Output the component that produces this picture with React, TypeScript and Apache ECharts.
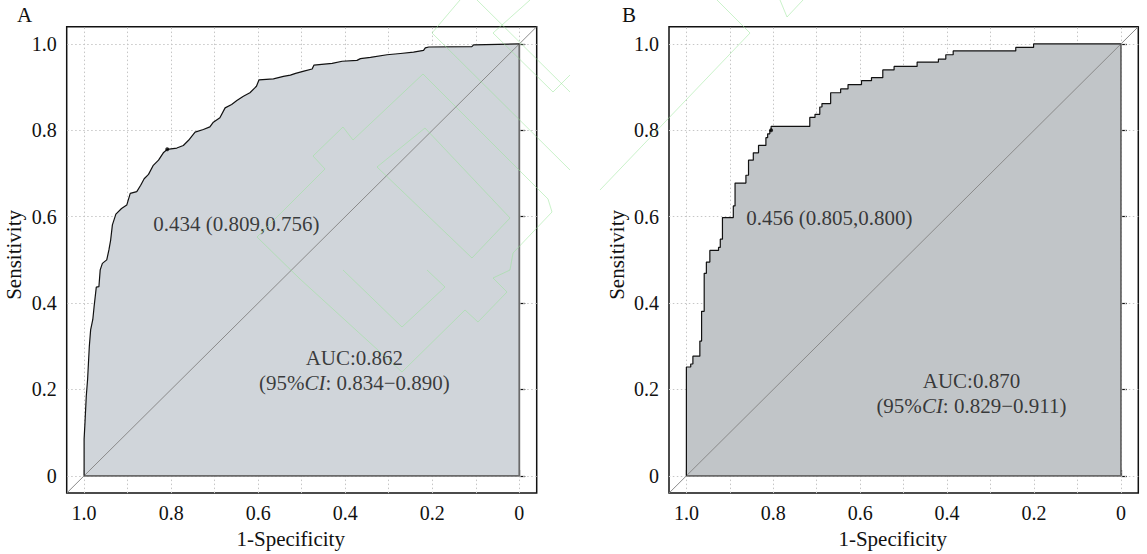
import React, { useEffect, useRef } from 'react';
import * as echarts from 'echarts';

// ---------- data ----------
// Panel A ROC curve (specificity, sensitivity)
const specA = [1.000, 1.000, 0.998, 0.995, 0.992, 0.990, 0.988, 0.985, 0.980, 0.977, 0.972, 0.966, 0.963, 0.958, 0.948, 0.943, 0.939, 0.935, 0.927, 0.914, 0.902, 0.894, 0.879, 0.870, 0.862, 0.852, 0.841, 0.829, 0.818, 0.809, 0.787, 0.772, 0.760, 0.745, 0.726, 0.711, 0.703, 0.688, 0.676, 0.661, 0.649, 0.634, 0.619, 0.604, 0.598, 0.565, 0.542, 0.526, 0.514, 0.495, 0.476, 0.472, 0.430, 0.407, 0.373, 0.365, 0.342, 0.304, 0.273, 0.243, 0.220, 0.216, 0.208, 0.109, 0.105, 0.000];
const sensA = [0.000, 0.085, 0.123, 0.185, 0.223, 0.262, 0.300, 0.338, 0.362, 0.392, 0.437, 0.438, 0.477, 0.492, 0.500, 0.523, 0.546, 0.581, 0.606, 0.619, 0.627, 0.654, 0.658, 0.673, 0.688, 0.698, 0.719, 0.731, 0.748, 0.756, 0.759, 0.765, 0.777, 0.796, 0.802, 0.808, 0.819, 0.829, 0.852, 0.860, 0.869, 0.879, 0.887, 0.902, 0.917, 0.919, 0.925, 0.928, 0.932, 0.937, 0.942, 0.951, 0.955, 0.960, 0.962, 0.966, 0.969, 0.975, 0.978, 0.981, 0.985, 0.991, 0.993, 0.994, 0.998, 1.000];

// Panel B ROC curve (step corners: specificity at end of each run, sensitivity level)
const specB = [1.000, 0.990, 0.985, 0.969, 0.965, 0.959, 0.954, 0.946, 0.926, 0.922, 0.917, 0.892, 0.888, 0.863, 0.857, 0.846, 0.834, 0.817, 0.813, 0.808, 0.805, 0.716, 0.704, 0.693, 0.688, 0.668, 0.645, 0.628, 0.597, 0.574, 0.548, 0.522, 0.469, 0.420, 0.403, 0.386, 0.242, 0.201, 0.000];
const sensB = [0.000, 0.252, 0.259, 0.277, 0.312, 0.381, 0.469, 0.495, 0.522, 0.529, 0.548, 0.598, 0.625, 0.678, 0.696, 0.731, 0.748, 0.765, 0.783, 0.792, 0.800, 0.809, 0.830, 0.837, 0.854, 0.862, 0.887, 0.896, 0.906, 0.915, 0.922, 0.940, 0.948, 0.958, 0.965, 0.975, 0.984, 0.992, 1.000];

const tickValues = [0, 0.2, 0.4, 0.6, 0.8, 1.0];
const gridXValues = [0, 0.1, 0.2, 0.3, 0.4, 0.5, 0.6, 0.7, 0.8, 0.9, 1.0];
const gridYValues = [0, 0.2, 0.4, 0.6, 0.8, 1.0];
const axisMin = -0.04;
const axisMax = 1.04;

const panelLabels = ['A', 'B'];
const xAxisTitle = '1-Specificity';
const yAxisTitle = 'Sensitivity';
const thresholdPoints = [[0.809, 0.756], [0.805, 0.800]];
const thresholdTexts = ['0.434 (0.809,0.756)', '0.456 (0.805,0.800)'];
const thresholdTextAnchors = [[0.841, 0.582], [0.862, 0.597]];
const aucTexts = ['AUC:0.862', 'AUC:0.870'];
const ciPrefix = '(95%';
const ciItalic = 'CI';
const ciRanges = [': 0.834\u22120.890)', ': 0.829\u22120.911)'];
const aucAnchors = [[0.379, 0.244], [0.344, 0.190]];

// ---------- styles ----------
const FONT = "'Liberation Serif', 'Times New Roman', serif";
const TEXT = '#111';
const fillColors = ['#d0d5da', '#c1c5c8'];
const layouts = [
  { left: 66.7, top: 26.7, width: 470, height: 468.3 },
  { left: 669, top: 26.7, width: 469.3, height: 468.3 },
];
const titlePos = [{ left: 17, top: 4 }, { left: 622, top: 4 }];

// faint background watermark outlines (decoration, pixel space)
const watermark: number[][][] = [
  [[257, 237], [325, 169], [313, 156], [343, 127], [353, 140], [423, 74], [548, 199], [552, 212], [513, 253], [510, 270], [493, 278], [507, 292], [478, 322], [465, 310], [402, 372], [300, 279], [257, 237]],
  [[377, 167], [425, 128], [510, 218], [472, 258], [377, 167]],
  [[343, 270], [402, 327], [445, 287], [427, 270]],
  [[432, 33], [460, 0]],
  [[432, 33], [570, 170]],
  [[477, 0], [570, 92]],
  [[493, 33], [530, 0]],
  [[493, 33], [553, 92], [570, 75]],
  [[717, 0], [750, 33], [600, 190]],
  [[780, 0], [787, 17], [803, 0]],
];

const fmt = (v: number) => (v === 0 ? '0' : Number(v).toFixed(1));

function buildOption() {
  const curves = [
    specA.map((s, i) => [s, sensA[i]]),
    specB.map((s, i) => [s, sensB[i]]),
  ];
  const steps: (false | 'start')[] = [false, 'start'];

  const grid = layouts.map((l) => ({
    ...l,
    show: true,
    borderColor: '#111',
    borderWidth: 1.5,
    backgroundColor: 'rgba(0,0,0,0)',
  }));

  const axisCommon = {
    type: 'value',
    min: axisMin,
    max: axisMax,
    axisLine: { show: false },
    axisTick: { show: true, inside: true, length: 6, lineStyle: { color: '#111', width: 1.2 }, customValues: tickValues },
    axisLabel: { customValues: tickValues, formatter: fmt, margin: 10, fontSize: 20, fontFamily: FONT, color: TEXT },
    splitLine: { show: false },
    nameLocation: 'middle',
  };

  const xAxis = layouts.map((_, i) => ({
    ...axisCommon,
    gridIndex: i,
    inverse: true,
    name: xAxisTitle,
    nameGap: 29,
    nameTextStyle: { fontSize: 21, fontFamily: FONT, color: TEXT, padding: [0, 22, 0, 0] },
  }));

  const yAxis = layouts.map((_, i) => ({
    ...axisCommon,
    gridIndex: i,
    name: yAxisTitle,
    nameGap: 42,
    nameTextStyle: { fontSize: 21, fontFamily: FONT, color: TEXT, padding: [0, 0, 0, 10] },
  }));

  const series: any[] = [];
  layouts.forEach((_, i) => {
    const ax = { xAxisIndex: i, yAxisIndex: i };
    // dotted grid
    series.push({
      ...ax,
      type: 'line',
      data: [[0, 0]],
      symbol: 'none',
      lineStyle: { opacity: 0 },
      silent: true,
      z: 1,
      markLine: {
        silent: true,
        z: 1,
        symbol: ['none', 'none'],
        label: { show: false },
        lineStyle: { color: '#c6c6c6', type: [1.5, 2.5], width: 1 },
        data: [
          ...gridXValues.map((v) => ({ xAxis: v })),
          ...gridYValues.map((v) => ({ yAxis: v })),
        ],
      },
    });
    // filled area
    series.push({
      ...ax,
      type: 'line',
      data: curves[i],
      step: steps[i],
      symbol: 'none',
      lineStyle: { opacity: 0 },
      areaStyle: { color: fillColors[i], opacity: 1 },
      silent: true,
      z: 2,
    });
    // polygon border (bottom and right)
    series.push({
      ...ax,
      type: 'line',
      data: [[1, 0], [0, 0], [0, 1]],
      symbol: 'none',
      lineStyle: { color: '#6a6a6a', width: 1.8 },
      silent: true,
      z: 3,
    });
    // diagonal
    series.push({
      ...ax,
      type: 'line',
      data: [[axisMax, axisMin], [axisMin, axisMax]],
      symbol: 'none',
      lineStyle: { color: '#8a8a8a', width: 1 },
      silent: true,
      z: 3,
    });
    // ROC curve
    series.push({
      ...ax,
      type: 'line',
      data: curves[i],
      step: steps[i],
      symbol: 'none',
      lineStyle: { color: '#111', width: 1.2 },
      silent: true,
      z: 4,
    });
    // threshold point
    series.push({
      ...ax,
      type: 'scatter',
      data: [thresholdPoints[i]],
      symbolSize: 4,
      itemStyle: { color: '#000' },
      silent: true,
      z: 5,
    });
    // threshold text
    series.push({
      ...ax,
      type: 'scatter',
      data: [thresholdTextAnchors[i]],
      symbolSize: 0,
      silent: true,
      z: 6,
      label: {
        show: true,
        position: 'inside',
        align: 'left',
        verticalAlign: 'middle',
        formatter: thresholdTexts[i],
        fontSize: 21,
        fontFamily: FONT,
        color: TEXT,
      },
    });
    // AUC text
    series.push({
      ...ax,
      type: 'scatter',
      data: [aucAnchors[i]],
      symbolSize: 0,
      silent: true,
      z: 6,
      label: {
        show: true,
        position: 'inside',
        align: 'center',
        verticalAlign: 'middle',
        formatter: `{a|${aucTexts[i]}}\n{a|${ciPrefix}}{i|${ciItalic}}{a|${ciRanges[i]}}`,
        rich: {
          a: { fontSize: 21, fontFamily: FONT, color: TEXT, lineHeight: 25 },
          i: { fontSize: 21, fontFamily: FONT, color: TEXT, lineHeight: 25, fontStyle: 'italic' },
        },
      },
    });
  });

  return {
    animation: false,
    backgroundColor: '#fff',
    title: panelLabels.map((t, i) => ({
      text: t,
      ...titlePos[i],
      padding: 0,
      textStyle: { fontFamily: FONT, fontSize: 21, fontWeight: 'normal', color: TEXT },
    })),
    graphic: watermark.map((pts) => ({
      type: 'polyline',
      silent: true,
      z: 50,
      shape: { points: pts },
      style: { stroke: 'rgba(150,230,150,0.5)', lineWidth: 1, fill: 'none' },
    })),
    grid,
    xAxis,
    yAxis,
    series,
  };
}

export default function App() {
  const ref = useRef<HTMLDivElement>(null);
  useEffect(() => {
    if (!ref.current) return;
    const chart = echarts.init(ref.current, undefined, { renderer: 'svg' });
    chart.setOption(buildOption() as any);
    return () => chart.dispose();
  }, []);
  return (
    <div
      ref={ref}
      style={{ position: 'fixed', left: 0, top: 0, width: 1147, height: 554, background: '#fff' }}
    />
  );
}
